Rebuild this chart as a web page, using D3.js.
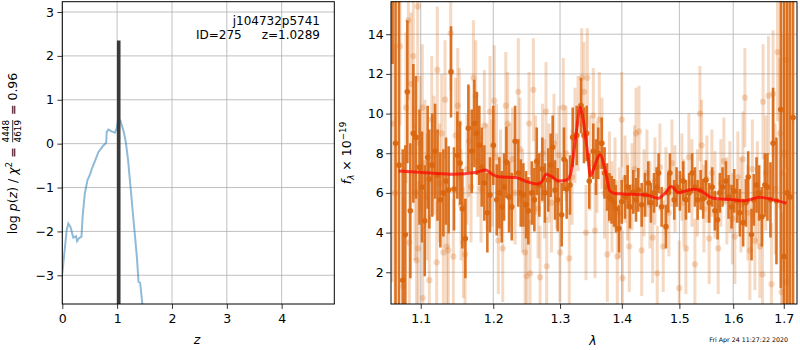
<!DOCTYPE html>
<html><head><meta charset="utf-8">
<script src="https://cdn.jsdelivr.net/npm/d3@7"></script>
<style>
body{margin:0;background:#fff}
text{font-family:"DejaVu Sans",sans-serif;fill:#000;white-space:pre}
</style>
</head><body>
<svg id="c" width="800" height="350" xmlns="http://www.w3.org/2000/svg"></svg>
<script>
// ---------------- data ----------------
const pzZ   = [0,0.08,0.11,0.15,0.2,0.25,0.27,0.3,0.35,0.37,0.41,0.46,0.5,0.54,0.6,0.66,0.75,0.8,0.81,0.84,0.9,0.96,0.99,1.02,1.06,1.12,1.16,1.2,1.26,1.31,1.36,1.39,1.42,1.46];
const pzLog = [-2.96,-1.97,-1.82,-1.9,-2.14,-2.11,-2.22,-2.16,-2.12,-1.67,-1.14,-0.83,-0.72,-0.57,-0.38,-0.19,-0.04,0.02,0.27,0.32,0.28,0.25,0.34,0.57,0.52,0.27,0.02,-0.38,-1.21,-1.9,-2.58,-3.15,-3.17,-3.66];
const zBest = 1.0289, zBestPeak = 2.35;
const zTicks = [0,1,2,3,4];
const logTicks = [-3,-2,-1,0,1,2,3];
const lamTicks = [1.1,1.2,1.3,1.4,1.5,1.6,1.7];
const fluxTicks = [2,4,6,8,10,12,14];

const modelLam  = [1.0715,1.099,1.1167,1.1437,1.1763,1.1893,1.1975,1.2071,1.2342,1.2492,1.2643,1.2719,1.2784,1.2872,1.2976,1.3106,1.3169,1.3221,1.3274,1.3315,1.3367,1.343,1.3484,1.3554,1.3638,1.372,1.3802,1.3885,1.4025,1.4427,1.4625,1.4742,1.486,1.4978,1.525,1.5374,1.5622,1.6001,1.6194,1.6519,1.6717,1.7056];
const modelFlux = [7.11,7.04,6.99,6.94,7.04,7.16,6.96,6.82,6.77,6.57,6.45,6.57,6.94,6.82,6.6,6.65,6.99,8.17,9.51,10.3,9.68,8.17,6.86,7.4,7.92,7.2,6.1,5.97,5.95,5.9,5.73,5.98,6.32,6.01,6.19,6.12,5.73,5.65,5.6,5.78,5.7,5.48];

const darkLam  = [1.0635,1.0673,1.0717,1.0765,1.0799,1.0825,1.0864,1.0903,1.0938,1.0984,1.1017,1.1053,1.1092,1.1114,1.1154,1.1191,1.1224,1.1262,1.1303,1.1339,1.1375,1.1407,1.1448,1.1494,1.1531,1.1563,1.1605,1.1647,1.1694,1.1731,1.1765,1.1801,1.1835,1.1872,1.1915,1.1953,1.2001,1.2050,1.2088,1.2123,1.2156,1.2190,1.2229,1.2269,1.2318,1.2366,1.2402,1.2441,1.2481,1.2516,1.2567,1.2606,1.2642,1.2681,1.2727,1.2768,1.2818,1.2855,1.2886,1.2922,1.2963,1.3026,1.3062,1.3104,1.3156,1.3199,1.3263,1.3331,1.3379,1.3422,1.3464,1.3529,1.3573,1.3610,1.3666,1.3712,1.3753,1.3791,1.3830,1.3869,1.3902,1.3952,1.3998,1.4053,1.4098,1.4137,1.4193,1.4240,1.4279,1.4337,1.4394,1.4451,1.4497,1.4550,1.4597,1.4631,1.4684,1.4760,1.4801,1.4831,1.4908,1.4950,1.5009,1.5069,1.5118,1.5177,1.5232,1.5282,1.5332,1.5387,1.5435,1.5485,1.5546,1.5602,1.5653,1.5703,1.5746,1.5797,1.5860,1.5911,1.5969,1.6019,1.6076,1.6128,1.6192,1.6245,1.6290,1.6356,1.6401,1.6454,1.6505,1.6559,1.6618,1.6671,1.6731,1.6784,1.6852,1.6939,1.7007,1.7072,1.7129,1.7191];
const darkFlux = [19,8.5,7.4,1.6,3.9,11.1,5.1,9.0,8.8,7.3,6.3,4.6,7.8,6.7,7.4,8.1,6.9,5.65,6.0,6.6,6.15,12.1,6.2,7.9,7.5,5.2,3.7,9.26,8.1,9.5,9.0,8.4,7.3,6.5,5.0,5.9,8.4,5.65,6.0,5.3,6.3,7.55,5.8,5.3,8.6,7.0,6.0,5.9,5.4,5.1,6.0,5.65,7.6,6.4,7.2,6.0,6.65,7.4,8.3,6.15,5.65,4.9,7.7,6.2,6.4,8.8,8.9,10.4,8.9,9.0,6.6,8.1,7.3,8.0,8.5,7.0,6.3,5.8,5.65,5.5,5.2,4.2,5.55,5.8,6.3,5.3,6.05,5.65,6.15,5.4,5.9,6.5,5.5,6.0,6.3,7.0,5.3,4.3,6.0,7.0,5.65,6.3,6.1,6.6,5.65,6.0,7.0,6.3,5.65,6.15,5.7,6.65,5.5,6.3,5.1,4.65,6.0,6.3,6.6,5.8,5.3,6.1,5.6,5.0,4.5,5.5,6.8,3.9,5.65,6.4,6.0,4.8,6.4,6.3,5.65,8.5,5.6,10.2,2.8,6.0,5.8,9.8];
const darkErr  = [6.5,9,9,6.6,4.5,3.6,3.4,3.5,3.1,2.9,2.8,2.8,2.6,2.5,2.6,2.4,2.3,2.4,2.2,2.2,2.2,2.3,2.1,2.2,2.1,2.0,2.0,2.2,2.1,2.2,2.1,2.0,2.0,1.9,2.0,1.9,2.0,1.8,1.8,1.8,1.7,1.8,1.8,1.7,1.8,1.7,1.7,1.6,1.7,1.7,1.6,1.6,1.7,1.6,1.6,1.5,1.6,1.6,1.6,1.5,1.6,1.6,1.6,1.5,1.5,1.5,1.5,1.4,1.4,1.4,1.4,1.4,1.4,1.3,1.3,1.3,1.2,1.2,1.2,1.2,1.2,1.2,1.1,1.1,1.1,1.1,1.1,1.1,1.1,1.1,1.1,1.1,1.0,1.0,1.0,1.0,1.0,1.1,1.0,1.0,1.0,1.0,1.0,1.0,1.0,1.0,1.0,1.0,1.0,1.0,1.0,1.0,1.0,1.0,1.0,1.0,1.0,1.0,1.0,1.1,1.1,1.1,1.1,1.2,1.2,1.2,1.3,1.3,1.3,1.4,1.4,1.5,1.6,1.7,1.9,2.8,3.2,9,13,12,13,12];

const lightLam  = [1.0628,1.0667,1.0730,1.0773,1.0808,1.0838,1.0851,1.0873,1.0903,1.0925,1.0945,1.0960,1.0968,1.0990,1.1021,1.1027,1.1057,1.1083,1.1114,1.1146,1.1177,1.1213,1.1221,1.1251,1.1281,1.1303,1.1326,1.1348,1.1370,1.1403,1.1439,1.1469,1.1499,1.1521,1.1545,1.1577,1.1601,1.1628,1.1656,1.1684,1.1717,1.1750,1.1783,1.1825,1.1872,1.1910,1.1953,1.1982,1.2015,1.2047,1.2073,1.2105,1.2137,1.2181,1.2210,1.2244,1.2281,1.2318,1.2366,1.2391,1.2429,1.2466,1.2492,1.2526,1.2541,1.2591,1.2624,1.2662,1.2692,1.2730,1.2760,1.2783,1.2794,1.2829,1.2867,1.2906,1.2945,1.2984,1.2999,1.3051,1.3093,1.3145,1.3188,1.3235,1.3283,1.3342,1.3379,1.3411,1.3432,1.3475,1.3529,1.3557,1.3589,1.3627,1.3671,1.3712,1.3758,1.3794,1.3835,1.3885,1.3924,1.3961,1.3998,1.4011,1.4053,1.4095,1.4125,1.4171,1.4214,1.4240,1.4291,1.4337,1.4377,1.4428,1.4480,1.4527,1.4567,1.4607,1.4654,1.4712,1.4760,1.4813,1.4867,1.4920,1.4997,1.5045,1.5081,1.5118,1.5172,1.5227,1.5282,1.5328,1.5374,1.5405,1.5448,1.5504,1.5546,1.5596,1.5653,1.5715,1.5765,1.5822,1.5879,1.5936,1.5984,1.6032,1.6090,1.6148,1.6187,1.6226,1.6284,1.6323,1.6372,1.6421,1.6470,1.6519,1.6572,1.6584,1.6638,1.6691,1.6751,1.6784,1.6828,1.6873,1.6919,1.6954,1.6970,1.7001,1.7035,1.7041,1.7082];
const lightFlux = [9.5,6.0,13.4,1.3,10.3,14.7,3.5,11.5,12.9,6.0,2.6,15.4,3.2,8.5,10.3,0.7,7.5,5.8,1.6,9.7,7.9,2.5,12.2,6.5,9.0,3.0,10.7,3.3,3.1,14.05,2.8,8.9,10.4,9.5,5.4,3.5,2.9,7.2,8.6,6.3,11.8,10.9,7.6,6.2,9.4,6.8,10.1,7.0,10.65,7.8,3.6,6.5,3.2,10.4,9.5,6.9,7.7,6.0,11.1,8.2,5.6,3.0,1.8,9.5,1.95,11.2,7.4,5.2,1.75,8.0,6.2,10.1,2.3,7.0,5.5,8.5,6.6,7.9,3.0,10.3,8.0,2.7,6.8,8.9,9.5,11.8,11.1,4.0,11.8,7.5,9.9,4.1,7.3,9.7,8.5,6.0,2.9,6.8,5.3,6.5,2.8,5.0,9.7,1.7,6.7,5.8,3.3,6.3,7.2,9.0,9.1,3.1,6.0,7.0,5.4,3.75,6.6,1.95,7.3,3.3,6.1,5.0,7.5,6.2,1.2,6.8,5.5,3.2,7.8,6.5,2.4,6.0,10.0,8.4,5.2,6.7,3.7,7.0,5.9,3.2,6.5,7.6,5.6,6.3,4.7,3.8,6.8,5.4,7.7,10.8,5.0,3.1,7.2,3.6,6.0,3.3,1.9,10.6,7.0,10.9,1.4,11.0,6.2,13.1,9.0,1.0,7.0,8.0,12.7,1.5,6.0];
const lightErr  = [8,7.5,4.0,4.5,3.8,4.0,3.6,3.6,3.6,3.4,3.6,3.8,3.4,3.4,3.2,3.6,3.2,3.2,3.3,3.2,3.0,3.1,3.2,3.0,3.0,3.0,3.0,2.9,2.8,2.9,2.9,2.9,2.9,2.8,2.8,2.8,2.8,2.8,2.8,2.8,2.9,2.8,2.8,2.7,2.8,2.7,2.8,2.7,2.8,2.7,2.7,2.7,2.7,2.7,2.6,2.6,2.6,2.6,2.7,2.6,2.6,2.6,2.7,2.6,2.7,2.6,2.5,2.5,2.6,2.5,2.5,2.5,2.5,2.5,2.5,2.5,2.4,2.5,2.5,2.5,2.4,2.5,2.4,2.4,2.4,2.5,2.5,2.4,2.5,2.4,2.4,2.4,2.3,2.4,2.3,2.3,2.4,2.3,2.3,2.3,2.4,2.3,2.4,2.4,2.2,2.2,2.3,2.2,2.2,2.3,2.3,2.3,2.2,2.2,2.2,2.3,2.2,2.4,2.2,2.3,2.2,2.2,2.2,2.2,2.4,2.2,2.2,2.3,2.2,2.2,2.3,2.2,2.4,2.3,2.2,2.2,2.3,2.2,2.2,2.3,2.2,2.2,2.2,2.3,2.3,2.4,2.3,2.4,2.4,2.5,2.4,2.5,2.5,2.5,2.6,2.6,2.9,2.9,2.9,3.0,3.1,3.2,3.3,3.5,3.8,4.0,10,6,5.5,5.5,8];

// ---------------- drawing ----------------
const svg = d3.select("#c");
const FONT = 12.5;
const gridCol = "#b0b0b0";

function styleAxis(g){
  g.select(".domain").remove();
  g.selectAll(".tick line").attr("stroke","#000").attr("stroke-width",0.8);
  g.selectAll(".tick text").attr("font-size",FONT).attr("font-family","DejaVu Sans").attr("fill","#000");
}

// ===== left panel =====
const L = {x0:62.3, x1:334.3, y0:1.7, y1:304};
const xz = d3.scaleLinear().domain([0,4.96]).range([L.x0,L.x1]);
const yl = d3.scaleLinear().domain([-3.654,3.235]).range([L.y1,L.y0]);

svg.append("clipPath").attr("id","clipL").append("rect")
  .attr("x",L.x0).attr("y",L.y0).attr("width",L.x1-L.x0).attr("height",L.y1-L.y0);

const gL = svg.append("g");
gL.selectAll("line.gx").data(zTicks).join("line")
  .attr("x1",d=>xz(d)).attr("x2",d=>xz(d)).attr("y1",L.y0).attr("y2",L.y1)
  .attr("stroke",gridCol).attr("stroke-width",0.8);
gL.selectAll("line.gy").data(logTicks).join("line")
  .attr("x1",L.x0).attr("x2",L.x1).attr("y1",d=>yl(d)).attr("y2",d=>yl(d))
  .attr("stroke",gridCol).attr("stroke-width",0.8);

const pzLine = d3.line().x((d,i)=>xz(pzZ[i])).y((d,i)=>yl(pzLog[i]));
gL.append("path").datum(pzZ).attr("d",pzLine).attr("clip-path","url(#clipL)")
  .attr("fill","none").attr("stroke","#1f77b4").attr("stroke-opacity",0.5).attr("stroke-width",2);

gL.append("line").attr("clip-path","url(#clipL)")
  .attr("x1",xz(zBest)).attr("x2",xz(zBest)).attr("y1",yl(zBestPeak)).attr("y2",L.y1+5)
  .attr("stroke","#3a3a3a").attr("stroke-width",3.6);

gL.append("rect").attr("x",L.x0).attr("y",L.y0).attr("width",L.x1-L.x0).attr("height",L.y1-L.y0)
  .attr("fill","none").attr("stroke","#000").attr("stroke-width",1);

const axLx = svg.append("g").attr("transform",`translate(0,${L.y1})`)
  .call(d3.axisBottom(xz).tickValues(zTicks).tickSize(4.9).tickPadding(5.5).tickFormat(d3.format("d")));
styleAxis(axLx);
const axLy = svg.append("g").attr("transform",`translate(${L.x0},0)`)
  .call(d3.axisLeft(yl).tickValues(logTicks).tickSize(4.9).tickPadding(3.5).tickFormat(d3.format("d")));
styleAxis(axLy);

svg.append("text").attr("x",320).attr("y",24.5).attr("text-anchor","end").attr("font-size",12).text("j104732p5741");
svg.append("text").attr("x",196).attr("y",38.8).attr("text-anchor","start").attr("font-size",12).text("ID=275");
svg.append("text").attr("x",320).attr("y",38.8).attr("text-anchor","end").attr("font-size",12).text("z=1.0289");

svg.append("text").attr("x",197).attr("y",343.5).attr("text-anchor","middle").attr("font-size",FONT)
  .attr("font-style","italic").text("z");

// left y label (rotated, built piecewise)
(function(){
  const g = svg.append("g").attr("transform","translate(17,153.5) rotate(-90)");
  const inner = g.append("g");
  let x = 0;
  const space = (function(){
    const t = inner.append("text").attr("font-size",FONT).text("a a");
    const t2 = inner.append("text").attr("font-size",FONT).text("aa");
    const w = t.node().getComputedTextLength() - t2.node().getComputedTextLength();
    t.remove(); t2.remove();
    return w;
  })();
  function seg(str, opts={}){
    const t = inner.append("text").attr("x",x).attr("y",opts.dy||0)
      .attr("font-size",opts.size||FONT).text(str);
    if(opts.italic) t.attr("font-style","italic");
    x += t.node().getComputedTextLength();
    return t;
  }
  function gap(){ x += space; }
  seg("log"); gap();
  seg("p",{italic:true});
  seg("(");
  seg("z",{italic:true});
  seg(")"); gap(); seg("/"); gap();
  seg("χ",{italic:true});
  seg("2",{size:8.8,dy:-5});
  gap(); seg("="); gap();
  // fraction
  const fx = x + 1;
  const num = inner.append("text").attr("x",fx).attr("y",-8).attr("font-size",8.8).text("4448");
  const den = inner.append("text").attr("x",fx).attr("y",3.5).attr("font-size",8.8).text("4619");
  const fw = Math.max(num.node().getComputedTextLength(), den.node().getComputedTextLength());
  inner.append("line").attr("x1",fx).attr("x2",fx+fw).attr("y1",-4.3).attr("y2",-4.3)
    .attr("stroke","#000").attr("stroke-width",0.8);
  x = fx + fw + 1;
  gap(); seg("="); gap(); seg("0.96");
  inner.attr("transform",`translate(${-x/2},0)`);
})();

// ===== right panel =====
const R = {x0:391, x1:797, y0:1.7, y1:304};
const xl = d3.scaleLog().domain([1.0615,1.7272]).range([R.x0,R.x1]);
const yf = d3.scaleLinear().domain([0.40,15.64]).range([R.y1,R.y0]);

svg.append("clipPath").attr("id","clipR").append("rect")
  .attr("x",R.x0).attr("y",R.y0).attr("width",R.x1-R.x0).attr("height",R.y1-R.y0);

const gR = svg.append("g");
gR.selectAll("line.gx").data(lamTicks).join("line")
  .attr("x1",d=>xl(d)).attr("x2",d=>xl(d)).attr("y1",R.y0).attr("y2",R.y1)
  .attr("stroke",gridCol).attr("stroke-width",0.8);
gR.selectAll("line.gy").data(fluxTicks).join("line")
  .attr("x1",R.x0).attr("x2",R.x1).attr("y1",d=>yf(d)).attr("y2",d=>yf(d))
  .attr("stroke",gridCol).attr("stroke-width",0.8);

const dataG = gR.append("g").attr("clip-path","url(#clipR)");
const ORANGE = "#d9660f";

function drawSeries(lam, flux, err, op, mop, bw, r){
  const idx = d3.range(lam.length);
  const g = dataG.append("g");
  g.selectAll("line").data(idx).join("line")
    .attr("x1",i=>xl(lam[i])).attr("x2",i=>xl(lam[i]))
    .attr("y1",i=>yf(flux[i]-err[i])).attr("y2",i=>yf(flux[i]+err[i]))
    .attr("stroke",ORANGE).attr("stroke-opacity",op).attr("stroke-width",bw);
  g.selectAll("circle").data(idx).join("circle")
    .attr("cx",i=>xl(lam[i])).attr("cy",i=>yf(flux[i])).attr("r",r)
    .attr("fill",ORANGE).attr("fill-opacity",mop);
}
drawSeries(lightLam, lightFlux, lightErr, 0.25, 0.25, 3, 3.1);
drawSeries(darkLam, darkFlux, darkErr, 0.9, 0.95, 2.6, 2.8);

const mLine = d3.line().curve(d3.curveMonotoneX)
  .x((d,i)=>xl(modelLam[i])).y((d,i)=>yf(modelFlux[i]));
dataG.append("path").datum(modelLam).attr("d",mLine)
  .attr("fill","none").attr("stroke","#ff0000").attr("stroke-opacity",0.7).attr("stroke-width",3);

gR.append("rect").attr("x",R.x0).attr("y",R.y0).attr("width",R.x1-R.x0).attr("height",R.y1-R.y0)
  .attr("fill","none").attr("stroke","#000").attr("stroke-width",1);

const axRx = svg.append("g").attr("transform",`translate(0,${R.y1})`)
  .call(d3.axisBottom(xl).tickValues(lamTicks).tickSize(4.9).tickPadding(5.5).tickFormat(d3.format(".1f")));
styleAxis(axRx);
const axRy = svg.append("g").attr("transform",`translate(${R.x0},0)`)
  .call(d3.axisLeft(yf).tickValues(fluxTicks).tickSize(4.9).tickPadding(2.5).tickFormat(d3.format("d")));
styleAxis(axRy);

svg.append("text").attr("x",593).attr("y",344.5).attr("text-anchor","middle").attr("font-size",FONT)
  .attr("font-style","italic").text("λ");

// right y label
(function(){
  const g = svg.append("g").attr("transform","translate(350.5,153) rotate(-90)");
  const t = g.append("text").attr("text-anchor","middle").attr("font-size",FONT);
  t.append("tspan").attr("font-style","italic").text("f");
  t.append("tspan").attr("font-style","italic").attr("font-size",8.8).attr("dy",3).text("λ");
  t.append("tspan").attr("dy",-3).text(" × 10");
  t.append("tspan").attr("font-size",8.8).attr("dy",-5).text("−19");
})();

svg.append("text").attr("x",788).attr("y",341.5).attr("text-anchor","end").attr("font-size",6.3)
  .text("Fri Apr 24 11:27:22 2020");
</script>
</body></html>
